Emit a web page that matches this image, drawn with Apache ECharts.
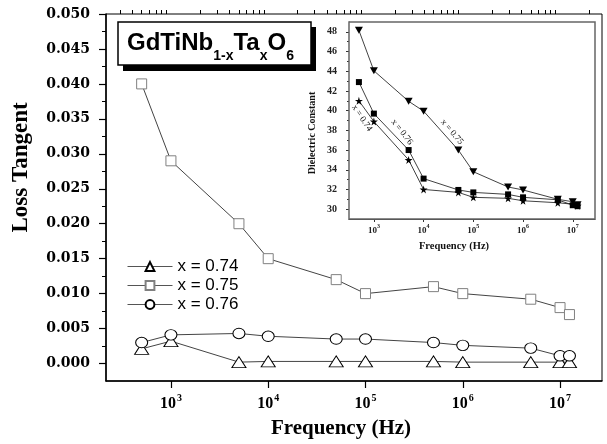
<!DOCTYPE html>
<html>
<head>
<meta charset="utf-8">
<script src="https://cdn.jsdelivr.net/npm/echarts@6/dist/echarts.min.js"></script>
<style>html,body{margin:0;padding:0;background:#fff}#c{width:607px;height:444px}</style>
</head>
<body>
<div id="c"></div>
<script>
// ---------- data ----------
const freq = [500, 1000, 5000, 1e4, 5e4, 1e5, 5e5, 1e6, 5e6, 1e7, 1.25e7];
const loss074 = [0.0021, 0.0032, 0.0002, 0.0003, 0.0003, 0.0003, 0.0003, 0.0002, 0.0002, 0.0002, 0.0002];
const loss075 = [0.040, 0.029, 0.020, 0.015, 0.012, 0.010, 0.011, 0.010, 0.0092, 0.008, 0.007];
const loss076 = [0.0030, 0.0041, 0.0043, 0.0039, 0.0035, 0.0035, 0.0030, 0.0026, 0.0022, 0.0011, 0.0011];
const diel074 = [41.0, 38.9, 35.0, 32.0, 31.7, 31.2, 31.1, 30.85, 30.65, 30.5, 30.35];
const diel075 = [48.15, 44.05, 40.95, 39.95, 36.0, 33.8, 32.25, 31.95, 31.0, 30.75, 30.45];
const diel076 = [42.9, 39.7, 36.0, 33.1, 31.95, 31.7, 31.5, 31.2, 30.95, 30.4, 30.3];
const seriesNames = ['x = 0.74', 'x = 0.75', 'x = 0.76'];
const xTicks = [1e3, 1e4, 1e5, 1e6, 1e7];
const xMinorTicks = [300,400,500,600,700,800,900,2e3,3e3,4e3,5e3,6e3,7e3,8e3,9e3,2e4,3e4,4e4,5e4,6e4,7e4,8e4,9e4,
  2e5,3e5,4e5,5e5,6e5,7e5,8e5,9e5,2e6,3e6,4e6,5e6,6e6,7e6,8e6,9e6,2e7];
const yTicks = [0, 0.005, 0.010, 0.015, 0.020, 0.025, 0.030, 0.035, 0.040, 0.045, 0.050];
const yMinorTicks = [0.0025, 0.0075, 0.0125, 0.0175, 0.0225, 0.0275, 0.0325, 0.0375, 0.0425, 0.0475];
const insetYTicks = [30, 32, 34, 36, 38, 40, 42, 44, 46, 48];
const insetYMinorTicks = [31, 33, 35, 37, 39, 41, 43, 45, 47];
const titleText = '{b|GdTiNb}{s|1-x}{b|Ta}{s|x}{b|O}{s|6}';

const SERIF = 'Liberation Serif';
const SANS = 'Liberation Sans';
const pair = (xs, ys) => xs.map((x, i) => [x, ys[i]]);
const supFmt = v => '{b|10}{s|' + Math.round(Math.log10(v)) + '}';
const starPath = 'path://M50,0 L61,35 L98,35 L68,57 L79,91 L50,70 L21,91 L32,57 L2,35 L39,35 Z';

const chart = echarts.init(document.getElementById('c'), null, {renderer: 'canvas'});

const mainLine = {color: '#444', width: 1};
const insetLine = {color: '#111', width: 0.8};

const option = {
  animation: false,
  backgroundColor: '#fff',
  grid: [
    {left: 106, top: 14, right: 5, bottom: 62, show: true, borderColor: '#000', borderWidth: 1, backgroundColor: 'transparent'},
    {left: 349, top: 22, right: 12, bottom: 225, show: true, borderColor: '#666', borderWidth: 1.5, backgroundColor: '#fff', z: 5}
  ],
  legend: {
    data: seriesNames, orient: 'vertical', left: 122, top: 253,
    itemWidth: 45, itemHeight: 11, itemGap: 2, itemSpacing: 6,
    lineStyle: {width: 1, color: '#555'},
    textStyle: {fontFamily: SANS, fontSize: 17, color: '#000'},
    selectedMode: false
  },
  xAxis: [
    {type: 'log', gridIndex: 0, min: 215, max: 2.7e7, logBase: 10,
     axisLine: {onZero: false, lineStyle: {color: '#000', width: 1.5}},
     axisTick: {customValues: xTicks, length: 7, lineStyle: {color: '#000', width: 1.2}},
     axisLabel: {customValues: xTicks, formatter: supFmt, margin: 12, color: '#000',
       rich: {
         b: {fontFamily: SERIF, fontWeight: 'bold', fontSize: 16, lineHeight: 16, padding: [6, 0, 0, 0], color: '#000'},
         s: {fontFamily: SERIF, fontWeight: 'bold', fontSize: 10, lineHeight: 10, padding: [3, 0, 9, 1], color: '#000'}
       }},
     splitLine: {show: false},
     name: 'Frequency (Hz)', nameLocation: 'middle', nameGap: 37,
     nameTextStyle: {fontFamily: SERIF, fontWeight: 'bold', fontSize: 21, color: '#000', padding: [0, 26, 0, 0]}
    },
    {type: 'log', gridIndex: 0, min: 215, max: 2.7e7, logBase: 10,
     axisLine: {show: false, onZero: false},
     axisTick: {customValues: xMinorTicks, length: 4, lineStyle: {color: '#000', width: 1}},
     axisLabel: {show: false}, splitLine: {show: false}
    },
    {type: 'log', gridIndex: 1, min: 316, max: 2.8e7, logBase: 10,
     axisLine: {onZero: false, lineStyle: {color: '#333', width: 1}},
     axisTick: {customValues: xTicks, length: 3, lineStyle: {color: '#333'}},
     axisLabel: {customValues: xTicks, formatter: supFmt, margin: 5,
       rich: {
         b: {fontFamily: SERIF, fontWeight: 'bold', fontSize: 9, lineHeight: 10, padding: [3, 0, 0, 0], color: '#222'},
         s: {fontFamily: SERIF, fontWeight: 'bold', fontSize: 6, lineHeight: 6, padding: [1, 0, 6, 0], color: '#222'}
       }},
     splitLine: {show: false},
     name: 'Frequency (Hz)', nameLocation: 'middle', nameGap: 22,
     nameTextStyle: {fontFamily: SERIF, fontWeight: 'bold', fontSize: 10.5, color: '#111', padding: [0, 36, 0, 0]}
    }
  ],
  yAxis: [
    {type: 'value', gridIndex: 0, min: -0.0025, max: 0.05, position: 'left',
     axisLine: {show: true, onZero: false, lineStyle: {color: '#000', width: 1.5}},
     axisTick: {show: true, customValues: yTicks, length: 7, lineStyle: {color: '#000', width: 1.2}},
     axisLabel: {customValues: yTicks, formatter: v => v.toFixed(3), margin: 16,
       fontFamily: 'DejaVu Serif', fontWeight: 'bold', fontSize: 14, color: '#000'},
     splitLine: {show: false},
     name: 'Loss Tangent', nameLocation: 'middle', nameGap: 73, nameRotate: 90,
     nameTextStyle: {fontFamily: SERIF, fontWeight: 'bold', fontSize: 23, color: '#000', padding: [0, 0, 0, 60]}
    },
    {type: 'value', gridIndex: 0, min: -0.0025, max: 0.05, position: 'left',
     axisLine: {show: false, onZero: false},
     axisTick: {show: true, customValues: yMinorTicks, length: 4, lineStyle: {color: '#000', width: 1}},
     axisLabel: {show: false}, splitLine: {show: false}
    },
    {type: 'value', gridIndex: 1, min: 29, max: 49, position: 'left',
     axisLine: {show: true, onZero: false, lineStyle: {color: '#333', width: 1}},
     axisTick: {show: true, customValues: insetYTicks, length: 3, lineStyle: {color: '#333'}},
     axisLabel: {customValues: insetYTicks, margin: 12,
       fontFamily: SERIF, fontWeight: 'bold', fontSize: 10, color: '#222'},
     splitLine: {show: false},
     name: 'Dielectric Constant', nameLocation: 'middle', nameGap: 32, nameRotate: 90,
     nameTextStyle: {fontFamily: SERIF, fontWeight: 'bold', fontSize: 10, color: '#111', padding: [0, 25, 0, 0]}
    },
    {type: 'value', gridIndex: 1, min: 29, max: 49, position: 'left',
     axisLine: {show: false, onZero: false},
     axisTick: {show: true, customValues: insetYMinorTicks, length: 2, lineStyle: {color: '#333'}},
     axisLabel: {show: false}, splitLine: {show: false}
    }
  ],
  series: [
    {name: seriesNames[0], type: 'line', xAxisIndex: 0, yAxisIndex: 0, data: pair(freq, loss074),
     symbol: 'triangle', symbolSize: [14, 11], showAllSymbol: true,
     lineStyle: mainLine, itemStyle: {color: '#fff', borderColor: '#000', borderWidth: 1}, z: 3},
    {name: seriesNames[1], type: 'line', xAxisIndex: 0, yAxisIndex: 0, data: pair(freq, loss075),
     symbol: 'rect', symbolSize: 10, showAllSymbol: true,
     lineStyle: mainLine, itemStyle: {color: '#fff', borderColor: '#808080', borderWidth: 1}, z: 3},
    {name: seriesNames[2], type: 'line', xAxisIndex: 0, yAxisIndex: 0, data: pair(freq, loss076),
     symbol: 'circle', symbolSize: [12, 10.5], showAllSymbol: true,
     lineStyle: mainLine, itemStyle: {color: '#fff', borderColor: '#000', borderWidth: 1}, z: 4},
    {name: 'inset 0.74', type: 'line', xAxisIndex: 2, yAxisIndex: 2, data: pair(freq, diel074),
     symbol: starPath, symbolSize: 8, showAllSymbol: true, z: 10,
     lineStyle: insetLine, itemStyle: {color: '#000'}},
    {name: 'inset 0.75', type: 'line', xAxisIndex: 2, yAxisIndex: 2, data: pair(freq, diel075),
     symbol: 'triangle', symbolRotate: 180, symbolSize: [8, 7], showAllSymbol: true, z: 10,
     lineStyle: insetLine, itemStyle: {color: '#000'}},
    {name: 'inset 0.76', type: 'line', xAxisIndex: 2, yAxisIndex: 2, data: pair(freq, diel076),
     symbol: 'rect', symbolSize: 6, showAllSymbol: true, z: 10,
     lineStyle: insetLine, itemStyle: {color: '#000'}}
  ],
  graphic: [
    {type: 'rect', shape: {x: 123, y: 27, width: 193, height: 44}, style: {fill: '#000'}, z: 20},
    {type: 'rect', shape: {x: 118, y: 22, width: 193, height: 43}, style: {fill: '#fff', stroke: '#000', lineWidth: 1.5}, z: 21},
    {type: 'text', x: 127, y: 32, z: 22,
     style: {text: titleText, verticalAlign: 'top', align: 'left',
       rich: {
         b: {fontFamily: SANS, fontWeight: 'bold', fontSize: 24, lineHeight: 28, padding: [0, 0, 6, 0], fill: '#000'},
         s: {fontFamily: SANS, fontWeight: 'bold', fontSize: 14, lineHeight: 14, padding: [20, 0, 0, 0], fill: '#000'}
       }}},
    {type: 'text', x: 362, y: 118, rotation: -56 * Math.PI / 180, z: 30,
     style: {text: 'x = 0.74', align: 'center', verticalAlign: 'middle', fontFamily: SERIF, fontSize: 9, fill: '#111'}},
    {type: 'text', x: 402, y: 132, rotation: -52 * Math.PI / 180, z: 30,
     style: {text: 'x = 0.76', align: 'center', verticalAlign: 'middle', fontFamily: SERIF, fontSize: 9, fill: '#111'}},
    {type: 'text', x: 452, y: 132, rotation: -50 * Math.PI / 180, z: 30,
     style: {text: 'x = 0.75', align: 'center', verticalAlign: 'middle', fontFamily: SERIF, fontSize: 9, fill: '#111'}}
  ]
};
chart.setOption(option);
</script>
</body>
</html>
